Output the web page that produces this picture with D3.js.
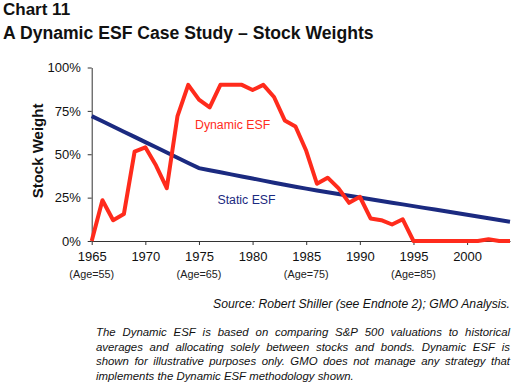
<!DOCTYPE html>
<html><head><meta charset="utf-8">
<script src="https://cdn.jsdelivr.net/npm/d3@7"></script>
<style>
html,body{margin:0;padding:0;background:#fff;}
svg{display:block;}
text{font-family:"Liberation Sans",Arial,sans-serif;}
</style></head>
<body>
<svg id="c" width="517" height="386"></svg>
<script>
const years = [1965,1966,1967,1968,1969,1970,1971,1972,1973,1974,1975,1976,1977,1978,1979,1980,1981,1982,1983,1984,1985,1986,1987,1988,1989,1990,1991,1992,1993,1994,1995,1996,1997,1998,1999,2000,2001,2002,2003,2004];
const dynamicESF = [0,23.5,12,15.5,51.5,54,43.5,30.5,72,90,81.5,77,90,90,90,87,90,83,69.5,66,52,33,36.5,30.5,22,25.5,13,12,9.5,12.5,0,0,0,0,0,0,0,1,0,0];
const staticESF = [72,69,66,63,60,57,54,51,48,45,42,40.8,39.6,38.4,37.2,36,34.8,33.6,32.4,31.3,30.2,29.1,28.1,27.1,26.1,25.1,24.1,23.1,22.1,21.1,20.1,19.1,18.1,17.1,16.1,15.1,14.1,13.1,12.1,11.1];
const xTicks = [1965,1970,1975,1980,1985,1990,1995,2000];
const ageTicks = [1965,1975,1985,1995];
const ageLabels = ["(Age=55)","(Age=65)","(Age=75)","(Age=85)"];
const yTicks = [0,25,50,75,100];
const chartLabel = "Chart 11";
const title = "A Dynamic ESF Case Study \u2013 Stock Weights";
const yTitle = "Stock Weight";
const source = "Source: Robert Shiller (see Endnote 2); GMO Analysis.";
const noteLines = [
 "The Dynamic ESF is based on comparing S&P 500 valuations to historical",
 "averages and allocating solely between stocks and bonds. Dynamic ESF is",
 "shown for illustrative purposes only. GMO does not manage any strategy that",
 "implements the Dynamic ESF methodology shown."
];

const svg = d3.select("#c");
const x = d3.scaleLinear().domain([1965,2004]).range([91.7,510]);
const y = d3.scaleLinear().domain([0,100]).range([241,67.5]);

svg.append("text").attr("x",3).attr("y",15).attr("font-size",17).attr("font-weight","bold").attr("fill","#111").text(chartLabel);
svg.append("text").attr("x",3).attr("y",39).attr("font-size",17.6).attr("font-weight","bold").attr("fill","#111").text(title);

// axes
const gx = svg.append("g").attr("transform",`translate(0,${y(0)})`)
  .call(d3.axisBottom(x).tickValues(xTicks).tickFormat(d3.format("d")).tickSize(4).tickSizeOuter(0).tickPadding(7));
gx.selectAll("text").attr("font-size",13).attr("fill","#111").attr("font-family","Liberation Sans, Arial, sans-serif");
const gy = svg.append("g").attr("transform",`translate(${x(1965)},0)`)
  .call(d3.axisLeft(y).tickValues(yTicks).tickFormat(d=>d+"%").tickSize(4).tickSizeOuter(0).tickPadding(7));
gy.selectAll("text").attr("font-size",13).attr("fill","#111").attr("font-family","Liberation Sans, Arial, sans-serif");
svg.selectAll(".domain, .tick line").attr("stroke","#333");

svg.append("g").selectAll("text").data(ageTicks).join("text")
  .attr("x",d=>x(d)).attr("y",278).attr("text-anchor","middle").attr("font-size",10.8).attr("fill","#222")
  .text((d,i)=>ageLabels[i]);

svg.append("text").attr("transform",`translate(43,151) rotate(-90)`).attr("text-anchor","middle")
  .attr("font-size",15).attr("font-weight","bold").attr("fill","#111").text(yTitle);

const line = d3.line().x((d,i)=>x(years[i])).y(d=>y(d));
svg.append("path").datum(staticESF).attr("d",line).attr("fill","none").attr("stroke","#1b2a80").attr("stroke-width",4);
svg.append("path").datum(dynamicESF).attr("d",line).attr("fill","none").attr("stroke","#ff2b1c").attr("stroke-width",4).attr("stroke-linejoin","round");

svg.append("text").attr("x",195).attr("y",129).attr("font-size",12.3).attr("fill","#ff2b1c").text("Dynamic ESF");
svg.append("text").attr("x",217.5).attr("y",204).attr("font-size",12.3).attr("fill","#1b2a80").text("Static ESF");

svg.append("text").attr("x",510).attr("y",308).attr("text-anchor","end").attr("font-size",12.2).attr("font-style","italic").attr("fill","#111").text(source);

// justified note
const left = 96, right = 510, fs = 11.4;
noteLines.forEach((ln,li)=>{
  const by = 336 + li*14.6;
  const words = ln.split(" ");
  const g = svg.append("g");
  const ts = words.map(w=>g.append("text").attr("y",by).attr("font-size",fs).attr("font-style","italic").attr("fill","#111").text(w));
  const widths = ts.map(t=>t.node().getComputedTextLength());
  const total = d3.sum(widths);
  const last = li===noteLines.length-1;
  const gap = last ? fs*0.278 : (right-left-total)/(words.length-1);
  let cx = left;
  ts.forEach((t,i)=>{ t.attr("x",cx); cx += widths[i]+gap; });
});
</script>
</body></html>
